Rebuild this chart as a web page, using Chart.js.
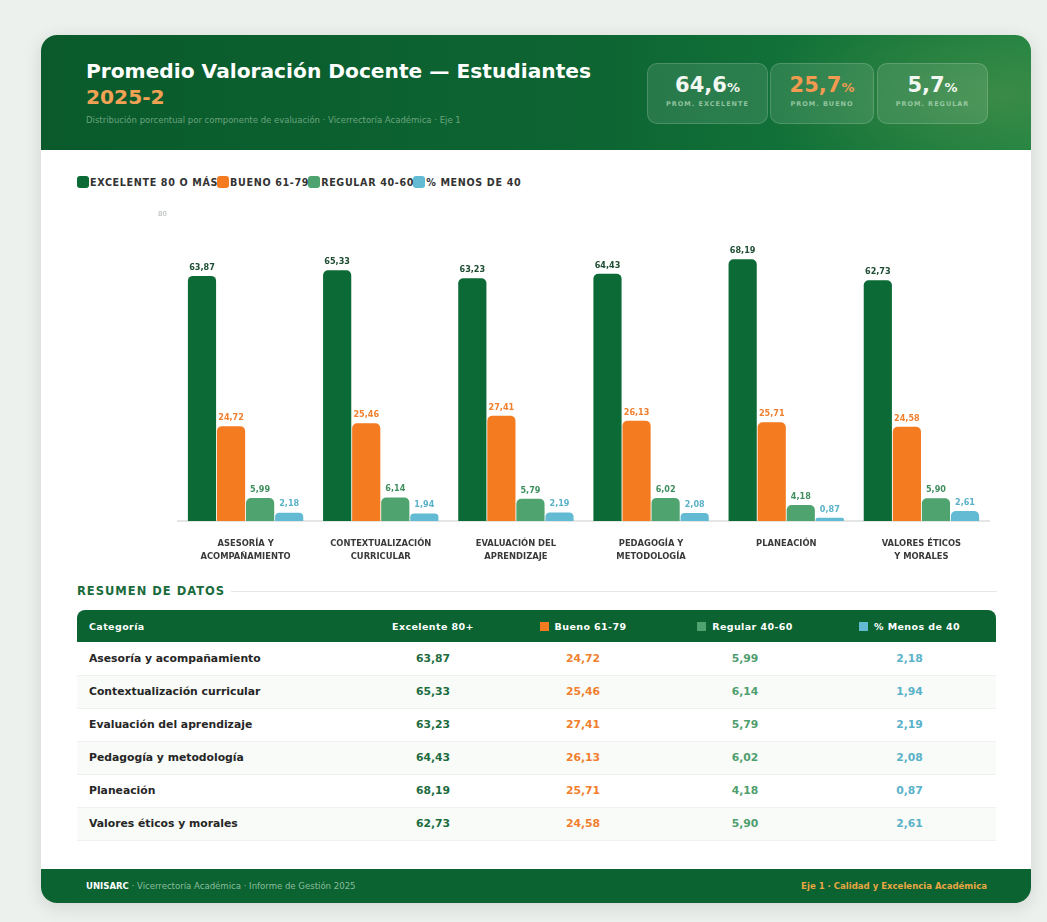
<!DOCTYPE html>
<html lang="es">
<head>
<meta charset="utf-8">
<title>Promedio Valoración Docente — Estudiantes 2025-2</title>
<script src="https://cdn.jsdelivr.net/npm/chart.js@4.4.1/dist/chart.umd.min.js"></script>
<style>
  * { box-sizing: border-box; margin: 0; padding: 0; }
  body { width: 1047px; height: 922px; background: #edf1ed; font-family: 'DejaVu Sans', sans-serif; position: relative; overflow: hidden; }
  .card { position: absolute; left: 41px; top: 35px; width: 990px; height: 868px; background: #fff; border-radius: 16px; box-shadow: 0 4px 18px rgba(0,0,0,.12); overflow: hidden; }
  .head { position: absolute; left: 0; top: 0; width: 990px; height: 115px;
          background: radial-gradient(ellipse 240px 110px at 960px 60px, rgba(150,170,90,.28), transparent),
                      linear-gradient(90deg, #0a5a2c 0%, #0d6532 55%, #17803f 100%); }
  .title { position: absolute; left: 45px; top: 23px; color: #fff; font-weight: bold; font-size: 20.2px; line-height: 26px; }
  .title .yr { color: #f2a255; }
  .sub { position: absolute; left: 45px; top: 80px; color: rgba(200,230,205,.5); font-size: 8.5px; }
  .kpi { position: absolute; top: 28px; height: 61px; border-radius: 10px; background: rgba(255,255,255,.11); border: 1px solid rgba(255,255,255,.16); text-align: center; }
  .kpi .v { margin-top: 9px; font-size: 21px; font-weight: bold; color: #f2f7f2; }
  .kpi .v small { font-size: 13px; }
  .kpi .l { margin-top: 3px; font-size: 6.5px; font-weight: bold; letter-spacing: 1px; color: rgba(190,225,195,.7); }
  .legend { position: absolute; left: 36px; top: 141px; display: flex; align-items: center; font-size: 9.6px; font-weight: bold; color: #333; letter-spacing: .65px; }
  .legend span.b { width: 12px; height: 12px; border-radius: 3px; display: inline-block; margin-right: 1px; }
  .legend span.t { margin-right: -1px; }
  .chartbox { position: absolute; left: 107px; top: 165px; width: 850px; height: 370px; }
  .sect { position: absolute; left: 36px; top: 549px; width: 920px; display: flex; align-items: center; font-size: 11.5px; font-weight: bold; color: #1a6b3c; letter-spacing: 1px; }
  .sect::after { content: ''; flex: 1; height: 1px; background: #e3e8e3; margin-left: 6px; }
  table { position: absolute; left: 36px; top: 575px; width: 919px; border-collapse: collapse; font-size: 10.8px; }
  th { background: #0a6331; color: #fff; font-weight: bold; height: 32px; font-size: 9.5px; letter-spacing: .4px; text-align: center; }
  th:first-child { text-align: left; padding-left: 12px; border-top-left-radius: 8px; }
  th:last-child { border-top-right-radius: 8px; }
  th i { display: inline-block; width: 9px; height: 9px; margin-right: 6px; vertical-align: -1px; }
  td { height: 33px; text-align: center; font-weight: bold; border-bottom: 1px solid #eef1ee; }
  td:first-child { text-align: left; padding-left: 12px; color: #262626; }
  tbody tr:nth-child(even) td { background: #f8fbf8; }
  td.e { color: #1c6b3e; } td.b { color: #f07f2e; } td.r { color: #4f9e6e; } td.m { color: #5ab2c9; }
  .foot { position: absolute; left: 0; bottom: 0; width: 990px; height: 34px; background: #0a6331; font-family: 'DejaVu Sans Condensed', sans-serif; font-size: 9.5px; }
  .foot .lft { position: absolute; left: 45px; top: 11px; color: rgba(200,225,205,.7); }
  .foot .lft b { color: #fff; }
  .foot .rgt { position: absolute; right: 44px; top: 11px; color: #e9a642; font-weight: bold; }
</style>
</head>
<body>
<div class="card">
  <div class="head">
    <div class="title">Promedio Valoración Docente — Estudiantes<br><span class="yr">2025-2</span></div>
    <div class="sub">Distribución porcentual por componente de evaluación · Vicerrectoría Académica · Eje 1</div>
    <div class="kpi" style="left:606px;width:121px"><div class="v">64,6<small>%</small></div><div class="l">PROM. EXCELENTE</div></div>
    <div class="kpi" style="left:729px;width:104px"><div class="v" style="color:#f29a50">25,7<small>%</small></div><div class="l">PROM. BUENO</div></div>
    <div class="kpi" style="left:836px;width:111px"><div class="v">5,7<small>%</small></div><div class="l">PROM. REGULAR</div></div>
  </div>

  <div class="legend" id="legend"></div>
  <div class="chartbox"><canvas id="chart"></canvas></div>

  <div class="sect">RESUMEN DE DATOS</div>
  <table id="tbl"></table>

  <div class="foot">
    <div class="lft"><b>UNISARC</b> · Vicerrectoría Académica · Informe de Gestión 2025</div>
    <div class="rgt">Eje 1 · Calidad y Excelencia Académica</div>
  </div>
</div>

<script>
// ── DATA ─────────────────────────────────────────────
const categories = [
  'Asesoría y acompañamiento',
  'Contextualización curricular',
  'Evaluación del aprendizaje',
  'Pedagogía y metodología',
  'Planeación',
  'Valores éticos y morales'
];
const axisLabels = [
  ['ASESORÍA Y', 'ACOMPAÑAMIENTO'],
  ['CONTEXTUALIZACIÓN', 'CURRICULAR'],
  ['EVALUACIÓN DEL', 'APRENDIZAJE'],
  ['PEDAGOGÍA Y', 'METODOLOGÍA'],
  'PLANEACIÓN',
  ['VALORES ÉTICOS', 'Y MORALES']
];
const excelente = [63.87, 65.33, 63.23, 64.43, 68.19, 62.73];
const bueno     = [24.72, 25.46, 27.41, 26.13, 25.71, 24.58];
const regular   = [5.99, 6.14, 5.79, 6.02, 4.18, 5.90];
const menos40   = [2.18, 1.94, 2.19, 2.08, 0.87, 2.61];
const seriesNames = ['Excelente 80 o más', 'Bueno 61-79', 'Regular 40-60', '% Menos de 40'];
const tableHeads  = ['Categoría', 'Excelente 80+', 'Bueno 61-79', 'Regular 40-60', '% Menos de 40'];
const yTicks = [0, 80];

// ── STYLE ────────────────────────────────────────────
const barColors   = ['#0b6a36', '#f47b20', '#4fa36f', '#62bad3'];
const labelColors = ['#1e4d33', '#f07f2e', '#3f8f5f', '#5ab2c9'];
const fmt = v => v.toFixed(2).replace('.', ',');

// HTML legend
const legendEl = document.getElementById('legend');
seriesNames.forEach((n, i) => {
  legendEl.insertAdjacentHTML('beforeend',
    `<span class="b" style="background:${barColors[i]}"></span><span class="t">${n.toUpperCase()}</span>`);
});

// Table
const tbl = document.getElementById('tbl');
const widths = [290, 132, 168, 156, 173];
let html = '<thead><tr>' + tableHeads.map((h, i) =>
  `<th style="width:${widths[i]}px">${i > 1 ? `<i style="background:${barColors[i - 1]}"></i>` : ''}${h}</th>`).join('') + '</tr></thead><tbody>';
categories.forEach((c, i) => {
  html += `<tr><td>${c}</td><td class="e">${fmt(excelente[i])}</td><td class="b">${fmt(bueno[i])}</td>` +
          `<td class="r">${fmt(regular[i])}</td><td class="m">${fmt(menos40[i])}</td></tr>`;
});
tbl.innerHTML = html + '</tbody>';

// Value labels above bars
const valueLabels = {
  id: 'valueLabels',
  afterDatasetsDraw(chart) {
    const { ctx } = chart;
    ctx.save();
    ctx.font = "bold 9px 'DejaVu Sans Condensed', sans-serif";
    ctx.textAlign = 'center';
    ctx.textBaseline = 'bottom';
    chart.data.datasets.forEach((ds, di) => {
      ctx.fillStyle = labelColors[di];
      chart.getDatasetMeta(di).data.forEach((bar, i) => {
        ctx.fillText(fmt(ds.data[i]), bar.x, bar.y - 4);
      });
    });
    ctx.restore();
  }
};

const seriesData = [excelente, bueno, regular, menos40];

new Chart(document.getElementById('chart'), {
  type: 'bar',
  data: {
    labels: axisLabels,
    datasets: seriesNames.map((n, i) => ({
      label: n,
      data: seriesData[i],
      backgroundColor: barColors[i],
      borderRadius: 5,
      borderSkipped: 'bottom',
      barPercentage: 0.97,
      categoryPercentage: 0.86,
    })),
  },
  options: {
    responsive: true,
    maintainAspectRatio: false,
    animation: false,
    layout: { padding: { top: 14, right: 9, bottom: 5, left: 0 } },
    plugins: { legend: { display: false }, tooltip: { enabled: false } },
    scales: {
      x: {
        grid: { display: false },
        border: { display: true, color: '#e3e6e3', width: 2 },
        ticks: {
          color: '#3a3a3a',
          padding: 9,
          font: { family: "'DejaVu Sans Condensed', sans-serif", size: 9.3, weight: 'bold', lineHeight: 1.3 },
          maxRotation: 0,
          autoSkip: false,
        },
        afterFit: s => { s.height = 44; },
      },
      y: {
        min: 0,
        max: 80,
        grid: { display: false },
        border: { display: false },
        afterBuildTicks: s => { s.ticks = yTicks.map(v => ({ value: v })); },
        ticks: {
          color: '#c4c8c4',
          font: { size: 8, weight: 'bold' },
          callback: v => (v === 80 ? '80' : ''),
        },
        afterFit: s => { s.width = 30; },
      },
    },
  },
  plugins: [valueLabels],
});
</script>
</body>
</html>
